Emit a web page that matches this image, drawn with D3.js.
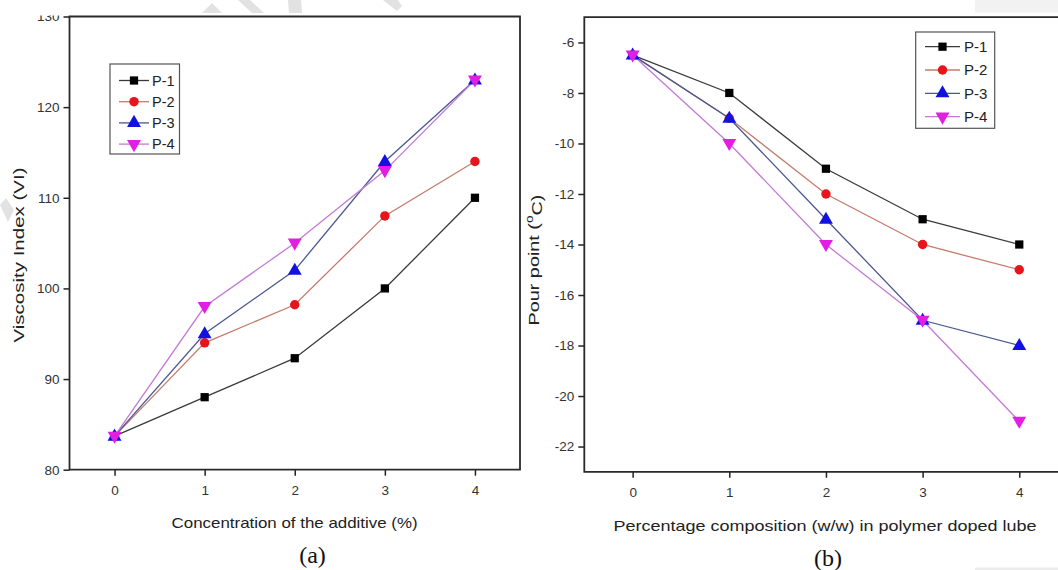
<!DOCTYPE html>
<html><head><meta charset="utf-8">
<script src="https://cdn.jsdelivr.net/npm/d3@7"></script>
<style>
html,body{margin:0;padding:0;background:#fff;}
svg{display:block;font-family:"Liberation Sans",Arial,sans-serif;}
</style></head>
<body>
<svg id="c" width="1058" height="570"></svg>
<script>
// ---- data ----
const xValues = [0, 1, 2, 3, 4];
const seriesNames = ["P-1", "P-2", "P-3", "P-4"];
// (a) Viscosity index
const viP1 = [83.7, 88, 92.3, 100, 110];
const viP2 = [83.7, 94, 98.2, 108, 114];
const viP3 = [83.7, 95, 102, 114, 123];
const viP4 = [83.7, 98, 105, 113, 123];
// (b) Pour point
const ppP1 = [-6.5, -8, -11, -13, -14];
const ppP2 = [-6.5, -9, -12, -14, -15];
const ppP3 = [-6.5, -9, -13, -17, -18];
const ppP4 = [-6.5, -10, -14, -17, -21];
const xTicks = [0, 1, 2, 3, 4];
const viTicks = [80, 90, 100, 110, 120, 130];
const ppTicks = [-22, -20, -18, -16, -14, -12, -10, -8, -6];

// ---- styles ----
const lineColors = ["#3a3a3a", "#c47c6c", "#4a5890", "#c47ad6"];
const markColors = ["#000000", "#e8141b", "#1212e0", "#e21ee2"];
const symbols = [d3.symbolSquare, d3.symbolCircle, d3.symbolTriangle, d3.symbolTriangle];
const symSizes = [68, 70, 84, 84];
const symRot = [0, 0, 0, 180];

const svg = d3.select("#c");

// watermark-like faint shapes
const wm = svg.append("g").attr("fill", "#e2e2e2");
wm.append("path").attr("d", "M202,13 L212,3 L222,13 Z");
wm.append("path").attr("d", "M238,0 L250,0 L264,13 L252,13 Z");
wm.append("path").attr("d", "M288,0 L301,0 L302,13 L289,13 Z");
wm.append("path").attr("d", "M383,0 L398,0 L402,6 L397,11 Z");
wm.append("path").attr("d", "M0,205 L6,198 L14,210 L8,222 Z");
svg.append("rect").attr("x", 975).attr("y", 0).attr("width", 83).attr("height", 12.5).attr("fill", "#f2f2f2");
svg.append("rect").attr("x", 975).attr("y", 567.5).attr("width", 83).attr("height", 2.5).attr("fill", "#ececec");

function panel(cfg) {
  const g = svg.append("g");
  const x = d3.scaleLinear().domain([-0.5, 4.5]).range(cfg.xr);
  const y = d3.scaleLinear().domain(cfg.yd).range(cfg.yr);
  const data = cfg.values.map((vals, i) => ({ name: seriesNames[i], pts: xValues.map((xv, j) => [xv, vals[j]]) }));

  // axes
  const ax = g.append("g").attr("transform", `translate(0,${cfg.yr[0]})`)
    .call(d3.axisBottom(x).tickValues(xTicks).tickSize(6).tickPadding(10).tickFormat(d3.format("d")));
  const ay = g.append("g").attr("transform", `translate(${cfg.xr[0]},0)`)
    .call(d3.axisLeft(y).tickValues(cfg.yTicks).tickSize(6).tickPadding(4).tickFormat(d => String(d)));
  [ax, ay].forEach(a => {
    a.attr("font-size", 13.5).attr("font-family", "'Liberation Sans',Arial,sans-serif");
    a.select(".domain").remove();
    a.selectAll(".tick line").attr("stroke", "#222").attr("stroke-width", 1.5);
    a.selectAll(".tick text").attr("fill", "#333").style("font-size", "13.5px");
  });

  // frame
  const x0 = cfg.xr[0], x1 = cfg.frameRight, y0 = cfg.yr[1], y1 = cfg.yr[0];
  const fp = cfg.closed
    ? `M${x0},${y0} L${x1},${y0} L${x1},${y1} L${x0},${y1} Z`
    : `M${x1},${y0} L${x0},${y0} L${x0},${y1} L${x1},${y1}`;
  g.append("path").attr("d", fp).attr("fill", "none").attr("stroke", "#2a2a2a").attr("stroke-width", 1.8);

  // lines
  const line = d3.line().x(d => x(d[0])).y(d => y(d[1]));
  data.forEach((s, i) => {
    g.append("path").datum(s.pts).attr("d", line).attr("fill", "none")
      .attr("stroke", lineColors[i]).attr("stroke-width", 1.3);
  });
  data.forEach((s, i) => {
    g.selectAll(null).data(s.pts).enter().append("path")
      .attr("d", d3.symbol().type(symbols[i]).size(symSizes[i]))
      .attr("transform", d => `translate(${x(d[0])},${y(d[1]) + (i >= 2 ? (i === 2 ? 0.5 : -0.5) : 0)}) rotate(${symRot[i]})`)
      .attr("fill", markColors[i]);
  });

  // legend
  const L = cfg.legend;
  const lg = g.append("g");
  lg.append("rect").attr("x", L.x).attr("y", L.y).attr("width", L.w).attr("height", L.h)
    .attr("fill", "#fff").attr("stroke", "#555").attr("stroke-width", 1.2);
  seriesNames.forEach((n, i) => {
    const yy = L.y0 + i * L.dy;
    lg.append("line").attr("x1", L.lx0).attr("x2", L.lx1).attr("y1", yy).attr("y2", yy)
      .attr("stroke", lineColors[i]).attr("stroke-width", 1.3);
    lg.append("path").attr("d", d3.symbol().type(symbols[i]).size(symSizes[i]))
      .attr("transform", `translate(${(L.lx0 + L.lx1) / 2},${yy}) rotate(${symRot[i]})`)
      .attr("fill", markColors[i]);
    lg.append("text").attr("x", L.tx).attr("y", yy).attr("dy", "0.36em")
      .attr("font-size", L.fs).attr("fill", "#222").text(n);
  });

  // titles
  g.append("text").attr("x", cfg.xt[0]).attr("y", cfg.xt[1]).attr("dy", "0.35em")
    .attr("text-anchor", "middle").attr("font-size", cfg.xtfs).attr("fill", "#222")
    .attr("textLength", cfg.xtLen).attr("lengthAdjust", "spacingAndGlyphs").text(cfg.xTitle);
  const yt = g.append("text").attr("transform", `translate(${cfg.yt[0]},${cfg.yt[1]}) rotate(-90)`)
    .attr("dy", "0.35em").attr("text-anchor", "middle").attr("font-size", 14.5).attr("fill", "#222")
    .attr("textLength", cfg.ytLen).attr("lengthAdjust", "spacingAndGlyphs");
  cfg.yTitle(yt);
  g.append("text").attr("x", cfg.lab[0]).attr("y", cfg.lab[1]).attr("dy", "0.35em")
    .attr("text-anchor", "middle").attr("font-size", 24).attr("fill", "#111")
    .attr("font-family", "'Liberation Serif','Times New Roman',serif").text(cfg.label);
  return g;
}

panel({
  xr: [69.5, 520], frameRight: 520, closed: true,
  yd: [80, 130], yr: [469.7, 16.5], yTicks: viTicks,
  values: [viP1, viP2, viP3, viP4],
  legend: { x: 110, y: 64, w: 69.5, h: 90, y0: 80.5, dy: 21.2, lx0: 119, lx1: 149, tx: 152, fs: 14.5 },
  xTitle: "Concentration of the additive (%)", xt: [294.6, 523], xtfs: 14.5, xtLen: 246,
  yTitle: t => t.text("Viscosity Index (VI)"), yt: [19, 255], ytLen: 175,
  label: "(a)", lab: [312.5, 555]
});
// clip top of the "130" label as in the source
svg.append("rect").attr("x", 30).attr("y", 0).attr("width", 36).attr("height", 15.5).attr("fill", "#fff");

panel({
  xr: [584.3, 1067.6], frameRight: 1068, closed: false,
  yd: [-23, -5], yr: [471.8, 17.2], yTicks: ppTicks,
  values: [ppP1, ppP2, ppP3, ppP4],
  legend: { x: 915.7, y: 32, w: 79, h: 96.3, y0: 46.7, dy: 23.3, lx0: 925, lx1: 960, tx: 964, fs: 15 },
  xTitle: "Percentage composition (w/w) in polymer doped lube", xt: [825, 526], xtfs: 15, xtLen: 423,
  yTitle: t => {
    t.append("tspan").text("Pour point (");
    t.append("tspan").attr("dy", "-0.6em").attr("font-size", 10).text("o");
    t.append("tspan").attr("dy", "0.6em").text("C)");
  }, yt: [534, 260], ytLen: 131,
  label: "(b)", lab: [828, 558]
});
</script>
</body></html>
